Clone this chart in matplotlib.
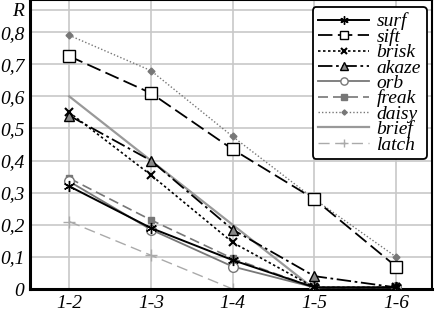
import matplotlib
matplotlib.use("Agg")
import matplotlib.pyplot as plt
import numpy as np

plt.rcParams['font.family'] = ['Liberation Serif', 'DejaVu Serif']

categories = ["1-2", "1-3", "1-4", "1-5", "1-6"]
surf  = [0.32, 0.19, 0.09, 0.005, 0.005]
sift  = [0.725, 0.61, 0.435, 0.28, 0.07]
brisk = [0.55, 0.355, 0.145, 0.005, 0.005]
akaze = [0.54, 0.40, 0.185, 0.04, 0.005]
orb   = [0.335, 0.185, 0.07, 0.005, 0.005]
freak = [0.345, 0.215, 0.095, 0.005, 0.005]
daisy = [0.79, 0.68, 0.475, 0.28, 0.10]
brief = [0.60, 0.40, 0.20, 0.0, 0.0]
latch = [0.21, 0.105, 0.0, 0.0, 0.0]
ytick_vals = [0, 0.1, 0.2, 0.3, 0.4, 0.5, 0.6, 0.7, 0.8]
ytick_labels = ["0", "0,1", "0,2", "0,3", "0,4", "0,5", "0,6", "0,7", "0,8"]

fig = plt.figure(figsize=(4.38, 3.11), dpi=100)
ax = fig.add_axes([30/438, 22/311, 402/438, 289/311])
x = np.arange(len(categories))

ax.plot(x, brief, color='#999999', lw=1.6, label='brief', zorder=2)
ax.plot(x, latch, color='#aaaaaa', lw=1.0, ls=(0, (8, 4)), marker='+', ms=8, mew=1.0, label='latch', zorder=2)
ax.plot(x, daisy, color='#777777', lw=1.0, ls=(0, (1, 1.5)), marker='D', ms=3.5, mfc='#777777', mec='#777777', label='daisy', zorder=3)
ax.plot(x, freak, color='#777777', lw=1.2, ls=(0, (6, 3)), marker='s', ms=5, mfc='#777777', mec='#777777', label='freak', zorder=3)
ax.plot(x, orb, color='#777777', lw=1.3, marker='o', ms=7, mfc='white', mec='#777777', label='orb', zorder=3)
ax.plot(x, akaze, color='black', lw=1.3, ls=(0, (8, 2, 1.5, 2)), marker='^', ms=7, mfc='#888888', mec='black', label='akaze', zorder=4)
ax.plot(x, brisk, color='black', lw=1.2, ls=(0, (1.5, 1.5)), marker='x', ms=6, mew=1.5, label='brisk', zorder=4)
ax.plot(x, sift, color='black', lw=1.3, ls=(0, (8, 3)), marker='s', ms=8, mfc='white', mec='black', label='sift', zorder=4)
ax.plot(x, surf, color='black', lw=1.4, marker=(6, 2, 0), ms=8, mew=1.0, label='surf', zorder=4)

ax.set_xlim(-0.48, 4.44)
ax.set_ylim(0, 0.9)
ax.set_xticks(x)
ax.set_xticklabels(categories, style='italic', fontsize=14)
ax.set_yticks(ytick_vals + [0.87])
ax.set_yticklabels(ytick_labels + ["R"], style='italic', fontsize=14)
ax.tick_params(length=0, pad=4)
ax.grid(True, color='#c8c8c8', lw=1.2)
ax.set_axisbelow(True)
for s in ax.spines.values():
    s.set_linewidth(1.5)
    s.set_color('black')
ax.spines['left'].set_linewidth(2.2)
ax.spines['bottom'].set_linewidth(2.2)

order = ['surf', 'sift', 'brisk', 'akaze', 'orb', 'freak', 'daisy', 'brief', 'latch']
handles, labels = ax.get_legend_handles_labels()
hmap = dict(zip(labels, handles))
leg = ax.legend([hmap[k] for k in order], order, loc='upper right',
                prop={'style': 'italic', 'size': 14}, frameon=True, fancybox=True,
                edgecolor='black', framealpha=1, handlelength=2.6, labelspacing=-0.12,
                markerscale=0.75, borderpad=0.3, handletextpad=0.4, borderaxespad=0.2,
                bbox_to_anchor=(0.997, 0.99))
leg.get_frame().set_linewidth(1.3)

fig.savefig("out.png", dpi=100)
